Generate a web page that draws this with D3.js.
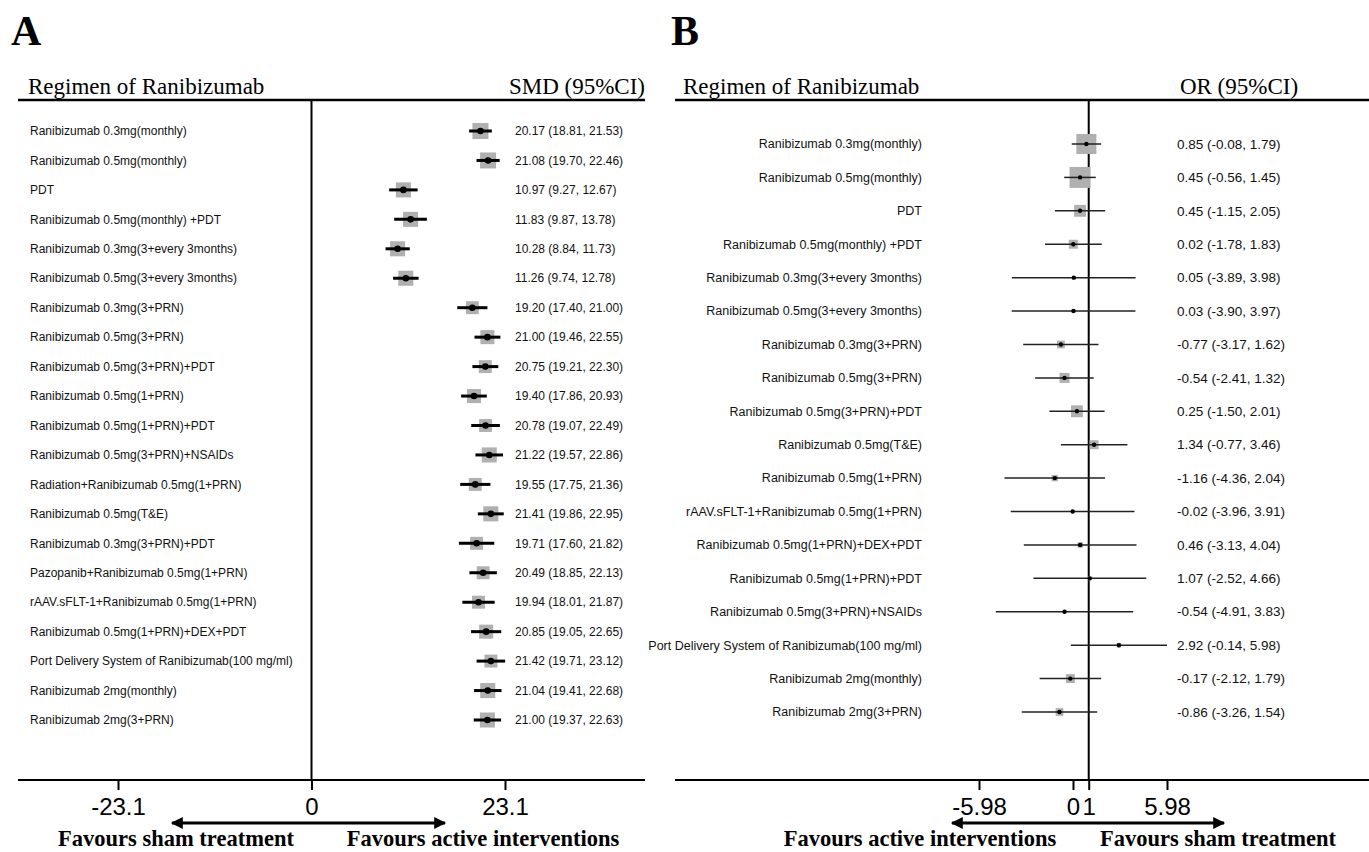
<!DOCTYPE html>
<html>
<head>
<meta charset="utf-8">
<script src="https://cdn.jsdelivr.net/npm/d3@7"></script>
<style>
  body { margin: 0; background: #fff; }
</style>
</head>
<body>
<svg id="chart" width="1369" height="852"></svg>
<script>
// panel A: SMD
const labelsA = [
  "Ranibizumab 0.3mg(monthly)",
  "Ranibizumab 0.5mg(monthly)",
  "PDT",
  "Ranibizumab 0.5mg(monthly) +PDT",
  "Ranibizumab 0.3mg(3+every 3months)",
  "Ranibizumab 0.5mg(3+every 3months)",
  "Ranibizumab 0.3mg(3+PRN)",
  "Ranibizumab 0.5mg(3+PRN)",
  "Ranibizumab 0.5mg(3+PRN)+PDT",
  "Ranibizumab 0.5mg(1+PRN)",
  "Ranibizumab 0.5mg(1+PRN)+PDT",
  "Ranibizumab 0.5mg(3+PRN)+NSAIDs",
  "Radiation+Ranibizumab 0.5mg(1+PRN)",
  "Ranibizumab 0.5mg(T&E)",
  "Ranibizumab 0.3mg(3+PRN)+PDT",
  "Pazopanib+Ranibizumab 0.5mg(1+PRN)",
  "rAAV.sFLT-1+Ranibizumab 0.5mg(1+PRN)",
  "Ranibizumab 0.5mg(1+PRN)+DEX+PDT",
  "Port Delivery System of Ranibizumab(100 mg/ml)",
  "Ranibizumab 2mg(monthly)",
  "Ranibizumab 2mg(3+PRN)"
];
const estA  = [20.17, 21.08, 10.97, 11.83, 10.28, 11.26, 19.20, 21.00, 20.75, 19.40, 20.78, 21.22, 19.55, 21.41, 19.71, 20.49, 19.94, 20.85, 21.42, 21.04, 21.00];
const lowA  = [18.81, 19.70, 9.27, 9.87, 8.84, 9.74, 17.40, 19.46, 19.21, 17.86, 19.07, 19.57, 17.75, 19.86, 17.60, 18.85, 18.01, 19.05, 19.71, 19.41, 19.37];
const highA = [21.53, 22.46, 12.67, 13.78, 11.73, 12.78, 21.00, 22.55, 22.30, 20.93, 22.49, 22.86, 21.36, 22.95, 21.82, 22.13, 21.87, 22.65, 23.12, 22.68, 22.63];
const weightA = [26, 26, 23, 23, 23, 23, 17, 20, 17, 20, 17, 23, 17, 23, 17, 17, 17, 20, 17, 23, 23];
const ticksA = [-23.1, 0, 23.1];

// panel B: OR
const labelsB = [
  "Ranibizumab 0.3mg(monthly)",
  "Ranibizumab 0.5mg(monthly)",
  "PDT",
  "Ranibizumab 0.5mg(monthly) +PDT",
  "Ranibizumab 0.3mg(3+every 3months)",
  "Ranibizumab 0.5mg(3+every 3months)",
  "Ranibizumab 0.3mg(3+PRN)",
  "Ranibizumab 0.5mg(3+PRN)",
  "Ranibizumab 0.5mg(3+PRN)+PDT",
  "Ranibizumab 0.5mg(T&E)",
  "Ranibizumab 0.5mg(1+PRN)",
  "rAAV.sFLT-1+Ranibizumab 0.5mg(1+PRN)",
  "Ranibizumab 0.5mg(1+PRN)+DEX+PDT",
  "Ranibizumab 0.5mg(1+PRN)+PDT",
  "Ranibizumab 0.5mg(3+PRN)+NSAIDs",
  "Port Delivery System of Ranibizumab(100 mg/ml)",
  "Ranibizumab 2mg(monthly)",
  "Ranibizumab 2mg(3+PRN)"
];
const estB  = [0.85, 0.45, 0.45, 0.02, 0.05, 0.03, -0.77, -0.54, 0.25, 1.34, -1.16, -0.02, 0.46, 1.07, -0.54, 2.92, -0.17, -0.86];
const lowB  = [-0.08, -0.56, -1.15, -1.78, -3.89, -3.90, -3.17, -2.41, -1.50, -0.77, -4.36, -3.96, -3.13, -2.52, -4.91, -0.14, -2.12, -3.26];
const highB = [1.79, 1.45, 2.05, 1.83, 3.98, 3.97, 1.62, 1.32, 2.01, 3.46, 2.04, 3.91, 4.04, 4.66, 3.83, 5.98, 1.79, 1.54];
const weightB = [40, 44, 14, 8, 1, 1, 6, 10, 14, 8, 4, 1, 3, 1.5, 1, 2, 8, 6];
const ticksB = [-5.98, 0, 1, 5.98];

const svg = d3.select("#chart");
const serif = "'Liberation Serif', 'Times New Roman', serif";
const sans = "'Liberation Sans', Arial, sans-serif";

svg.append("defs").append("marker")
  .attr("id", "arrow")
  .attr("viewBox", "0 0 10 10")
  .attr("refX", 9).attr("refY", 5)
  .attr("markerWidth", 5).attr("markerHeight", 4)
  .attr("orient", "auto-start-reverse")
  .append("path")
  .attr("d", "M0,0 L10,5 L0,10 z")
  .attr("fill", "#000");

const fmt = v => v.toFixed(2);

function drawPanel(p) {
  const g = svg.append("g");
  const x = d3.scaleLinear().domain(p.domain).range(p.range);
  const y = d3.scalePoint().domain(d3.range(p.labels.length)).range(p.yRange);
  const s = d3.scaleSqrt().domain([0, d3.max(p.weight)]).range([0, p.maxBox]);

  g.append("text")
    .attr("x", p.letterX).attr("y", 45)
    .attr("font-family", serif).attr("font-weight", "bold").attr("font-size", 42)
    .text(p.letter);

  g.append("text")
    .attr("x", p.headX).attr("y", 94)
    .attr("font-family", serif).attr("font-size", 23)
    .text("Regimen of Ranibizumab");
  g.append("text")
    .attr("x", p.statX).attr("y", 94)
    .attr("text-anchor", p.statAnchor)
    .attr("font-family", serif).attr("font-size", 23)
    .text(p.statTitle);

  // frame lines
  g.append("line")
    .attr("x1", p.left).attr("x2", p.right).attr("y1", 100).attr("y2", 100)
    .attr("stroke", "#000").attr("stroke-width", 2.5);
  g.append("line")
    .attr("x1", p.left).attr("x2", p.right).attr("y1", 780).attr("y2", 780)
    .attr("stroke", "#000").attr("stroke-width", 2);
  g.append("line")
    .attr("x1", x(p.nullVal)).attr("x2", x(p.nullVal)).attr("y1", 100).attr("y2", 780)
    .attr("stroke", "#000").attr("stroke-width", 2);

  const rows = g.selectAll("g.row")
    .data(p.labels.map((l, i) => ({ l, i, e: p.est[i], lo: p.low[i], hi: p.high[i], w: p.weight[i] })))
    .join("g").attr("class", "row");

  rows.append("text")
    .attr("x", p.labelX).attr("y", d => y(d.i)).attr("dy", "0.35em")
    .attr("text-anchor", p.labelAnchor)
    .attr("font-family", sans).attr("font-size", p.labelSize).attr("fill", "#111")
    .text(d => d.l);

  rows.append("text")
    .attr("x", p.valX).attr("y", d => y(d.i)).attr("dy", "0.35em")
    .attr("font-family", sans).attr("font-size", p.valSize).attr("fill", "#111")
    .text(d => `${fmt(d.e)} (${fmt(d.lo)}, ${fmt(d.hi)})`);

  rows.append("rect")
    .attr("x", d => x(d.e) - s(d.w) / 2).attr("y", d => y(d.i) - s(d.w) / 2)
    .attr("width", d => s(d.w)).attr("height", d => s(d.w))
    .attr("fill", "#b0b0b0");

  rows.append("line")
    .attr("x1", d => x(d.lo)).attr("x2", d => x(d.hi))
    .attr("y1", d => y(d.i)).attr("y2", d => y(d.i))
    .attr("stroke", p.ciColor).attr("stroke-width", p.ciWidth);

  rows.append("circle")
    .attr("cx", d => x(d.e)).attr("cy", d => y(d.i))
    .attr("r", p.pointR)
    .attr("fill", "#000");

  const axis = d3.axisBottom(x)
    .tickValues(p.ticks)
    .tickFormat(d => String(d))
    .tickSize(10)
    .tickPadding(8);
  const ag = g.append("g").attr("transform", "translate(0,780)").call(axis);
  ag.select(".domain").remove();
  ag.selectAll(".tick line").attr("stroke-width", 2);
  ag.selectAll(".tick text")
    .attr("font-family", sans).attr("font-size", 24).attr("fill", "#000");

  g.append("line")
    .attr("x1", p.arrow[0]).attr("x2", p.arrow[1]).attr("y1", 823).attr("y2", 823)
    .attr("stroke", "#000").attr("stroke-width", 3)
    .attr("marker-start", "url(#arrow)").attr("marker-end", "url(#arrow)");

  p.favours.forEach(f => {
    g.append("text")
      .attr("x", f.x).attr("y", 846).attr("text-anchor", "middle")
      .attr("font-family", serif).attr("font-weight", "bold").attr("font-size", 22.5)
      .text(f.t);
  });
}

drawPanel({
  letter: "A", letterX: 11, headX: 28, statX: 645, statAnchor: "end", statTitle: "SMD (95%CI)",
  left: 18, right: 645,
  labels: labelsA, est: estA, low: lowA, high: highA, weight: weightA,
  domain: [-23.1, 23.1], range: [118, 505], nullVal: 0, ticks: ticksA,
  yRange: [131, 720], maxBox: 16,
  labelX: 30, labelAnchor: "start", valX: 515, labelSize: 12, valSize: 12,
  ciColor: "#000", ciWidth: 3, pointR: 3.3,
  arrow: [172, 445],
  favours: [{ x: 176, t: "Favours sham treatment" }, { x: 483, t: "Favours active interventions" }]
});

drawPanel({
  letter: "B", letterX: 671, headX: 683, statX: 1239, statAnchor: "middle", statTitle: "OR (95%CI)",
  left: 675, right: 1369,
  labels: labelsB, est: estB, low: lowB, high: highB, weight: weightB,
  domain: [0, 5.98], range: [1073, 1167], nullVal: 1, ticks: ticksB,
  yRange: [144, 712], maxBox: 21,
  labelX: 922, labelAnchor: "end", valX: 1177, labelSize: 12.5, valSize: 13.5,
  ciColor: "#222", ciWidth: 1.5, pointR: 2.2,
  arrow: [952, 1224],
  favours: [{ x: 920, t: "Favours active interventions" }, { x: 1218, t: "Favours sham treatment" }]
});
</script>
</body>
</html>
